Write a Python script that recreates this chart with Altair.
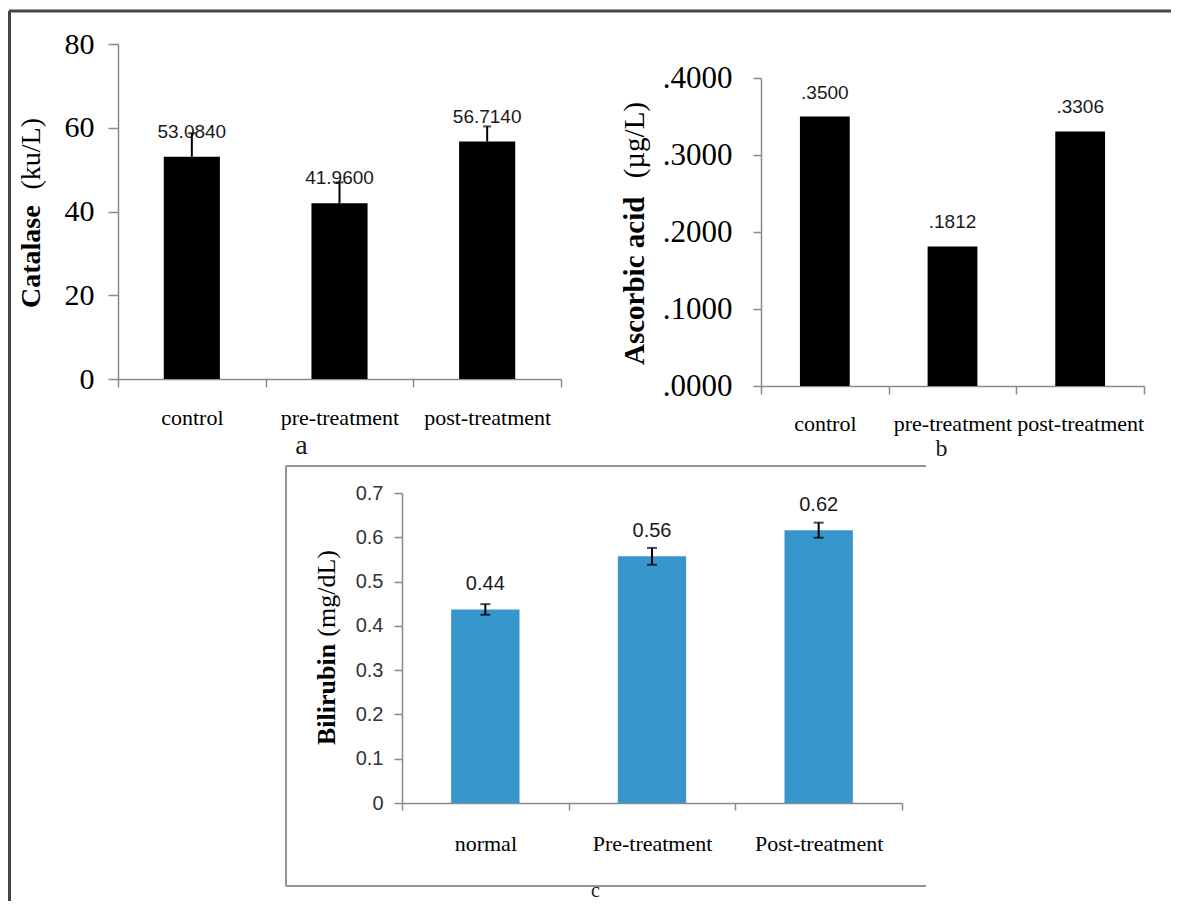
import altair as alt
import pandas as pd

# ---------------- data ----------------
catalase_groups = ["control", "pre-treatment", "post-treatment"]
catalase_values = [53.084, 41.96, 56.714]
catalase_err = [5.6, 5.0, 3.6]
catalase_ticks = [0, 20, 40, 60, 80]

ascorbic_groups = ["control", "pre-treatment", "post-treatment"]
ascorbic_values = [0.35, 0.1812, 0.3306]
ascorbic_ticks = [0.0, 0.1, 0.2, 0.3, 0.4]

bilirubin_groups = ["normal", "Pre-treatment", "Post-treatment"]
bilirubin_values = [0.437, 0.557, 0.616]
bilirubin_err = [0.012, 0.019, 0.017]
bilirubin_ticks = [0, 0.1, 0.2, 0.3, 0.4, 0.5, 0.6, 0.7]

df_a = pd.DataFrame({"group": catalase_groups, "value": catalase_values, "err": catalase_err})
df_a["hi"] = df_a["value"] + df_a["err"]
df_b = pd.DataFrame({"group": ascorbic_groups, "value": ascorbic_values})
df_c = pd.DataFrame({"group": bilirubin_groups, "value": bilirubin_values, "err": bilirubin_err})
df_c["lo"] = df_c["value"] - df_c["err"]
df_c["hi"] = df_c["value"] + df_c["err"]
one = pd.DataFrame({"k": [0]})

# ---------------- layout (plot-area pixels) ----------------
W, H = 1163, 893
SERIF = "Liberation Serif"
SANS = "Liberation Sans"
GREY = "#8a8a8a"

A_X = [110, 553]; A_Y = [371, 36]
B_X = [753, 1136]; B_Y = [378, 70]
C_X = [394, 894]; C_Y = [795, 485]


def xenc(groups, xr, axis):
    return alt.X("group:N",
                 scale=alt.Scale(domain=groups, range=xr, paddingInner=0, paddingOuter=0),
                 axis=axis)


def yenc(field, dom, yr, axis):
    return alt.Y(f"{field}:Q", scale=alt.Scale(domain=dom, range=yr, nice=False), axis=axis)


def xaxis(axis_y, lab_size, lab_pad, tick, caption, cap_x, cap_y, cap_size, cap_base="alphabetic"):
    return alt.Axis(orient="bottom", offset=axis_y - H, tickBand="extent", labelAngle=0,
                    grid=False, domainColor=GREY, domainWidth=1.5, tickColor=GREY,
                    tickWidth=1.5, tickSize=tick, labelFont=SERIF, labelFontSize=lab_size,
                    labelBaseline="alphabetic", labelPadding=lab_pad, labelColor="black",
                    title=caption, titleX=cap_x, titleY=cap_y, titleFont=SERIF,
                    titleFontSize=cap_size, titleFontWeight="normal",
                    titleBaseline=cap_base, titleAlign="center", titleColor="#1a1a1a")


# ---------------- panel a: Catalase ----------------
ya_axis = alt.Axis(orient="left", offset=-A_X[0], values=catalase_ticks, title=None, grid=False,
                   domainColor=GREY, domainWidth=1.5, tickColor=GREY, tickWidth=1.5, tickSize=10,
                   labelFont=SERIF, labelFontSize=30, labelColor="black", labelPadding=14,
                   format="d")
xa_axis = xaxis(A_Y[0], 22, 37, 8, "a", 293, 74, 28)
dom_a = [0, 80]
a_bars = alt.Chart(df_a).mark_bar(width={"band": 0.38}, color="black").encode(
    x=xenc(catalase_groups, A_X, xa_axis), y=yenc("value", dom_a, A_Y, ya_axis))
a_text = alt.Chart(df_a).transform_calculate(label="format(datum.value, '.4f')").mark_text(
    dy=-19, baseline="alphabetic", font=SANS, fontSize=19, color="#1a1a1a").encode(
    x=xenc(catalase_groups, A_X, None), y=yenc("value", dom_a, A_Y, None), text="label:N")
a_err = alt.Chart(df_a).mark_rule(color="black", strokeWidth=2).encode(
    x=xenc(catalase_groups, A_X, None), y=yenc("value", dom_a, A_Y, None), y2="hi:Q")
a_cap = alt.Chart(df_a).mark_tick(color="black", thickness=2, size=8).encode(
    x=xenc(catalase_groups, A_X, None), y=yenc("hi", dom_a, A_Y, None))

# ---------------- panel b: Ascorbic acid ----------------
yb_axis = alt.Axis(orient="left", offset=-B_X[0], values=ascorbic_ticks, title=None, grid=False,
                   domainColor=GREY, domainWidth=1.5, tickColor=GREY, tickWidth=1.5, tickSize=8,
                   labelFont=SERIF, labelFontSize=31, labelColor="black", labelPadding=21,
                   labelExpr="substring(format(datum.value, '.4f'), 1)")
xb_axis = xaxis(B_Y[0], 22, 36, 8, "b", 933, 69, 24)
dom_b = [0, 0.4]
b_bars = alt.Chart(df_b).mark_bar(width={"band": 0.39}, color="black").encode(
    x=xenc(ascorbic_groups, B_X, xb_axis), y=yenc("value", dom_b, B_Y, yb_axis))
b_text = alt.Chart(df_b).transform_calculate(
    label="substring(format(datum.value, '.4f'), 1)").mark_text(
    dy=-18, baseline="alphabetic", font=SANS, fontSize=19, color="#1a1a1a").encode(
    x=xenc(ascorbic_groups, B_X, None), y=yenc("value", dom_b, B_Y, None), text="label:N")

# ---------------- panel c: Bilirubin ----------------
yc_axis = alt.Axis(orient="left", offset=-C_X[0], values=bilirubin_ticks, title=None, grid=False,
                   domainColor=GREY, domainWidth=1.5, tickColor=GREY, tickWidth=1.5, tickSize=8,
                   labelFont=SANS, labelFontSize=20, labelColor="#333333", labelPadding=11,
                   labelExpr="datum.value == 0 ? '0' : format(datum.value, '.1f')")
xc_axis = xaxis(C_Y[0], 22, 40, 7, "c", 587, H - C_Y[0] - 1, 20, "bottom")
dom_c = [0, 0.7]
c_bars = alt.Chart(df_c).mark_bar(width={"band": 0.41}, color="#3797cc").encode(
    x=xenc(bilirubin_groups, C_X, xc_axis), y=yenc("value", dom_c, C_Y, yc_axis))
c_text = alt.Chart(df_c).transform_calculate(label="format(datum.value, '.2f')").mark_text(
    dy=-19, baseline="alphabetic", font=SANS, fontSize=20, color="#1a1a1a").encode(
    x=xenc(bilirubin_groups, C_X, None), y=yenc("value", dom_c, C_Y, None), text="label:N")
c_err = alt.Chart(df_c).mark_rule(color="black", strokeWidth=2).encode(
    x=xenc(bilirubin_groups, C_X, None), y=yenc("lo", dom_c, C_Y, None), y2="hi:Q")
c_cap_lo = alt.Chart(df_c).mark_tick(color="black", thickness=2, size=10).encode(
    x=xenc(bilirubin_groups, C_X, None), y=yenc("lo", dom_c, C_Y, None))
c_cap_hi = alt.Chart(df_c).mark_tick(color="black", thickness=2, size=10).encode(
    x=xenc(bilirubin_groups, C_X, None), y=yenc("hi", dom_c, C_Y, None))


# ---------------- decorations ----------------
def hrule(x1, x2, y, color, w):
    return alt.Chart(one).mark_rule(color=color, strokeWidth=w).encode(
        x=alt.value(x1), x2=alt.value(x2), y=alt.value(y))


def vrule(x, y1, y2, color, w):
    return alt.Chart(one).mark_rule(color=color, strokeWidth=w).encode(
        x=alt.value(x), y=alt.value(y1), y2=alt.value(y2))


def vtitle(text, x, y, align, size, weight):
    return alt.Chart(one).mark_text(angle=270, align=align, baseline="middle", font=SERIF,
                                    fontSize=size, fontWeight=weight, color="black").encode(
        x=alt.value(x), y=alt.value(y), text=alt.value(text))


FRAME = "#454545"
BOX = "#959595"
decor = [
    hrule(1, W, 3, FRAME, 3),
    vrule(1.5, 3, H, FRAME, 3),
    hrule(278, 918, 458, BOX, 2),
    hrule(278, 918, 878, BOX, 2),
    vrule(278, 458, 878, BOX, 2),
    vtitle("Catalase", 24, 300, "left", 28, "bold"),
    vtitle("(ku/L)", 24, 110, "right", 28, "normal"),
    vtitle("Ascorbic acid", 627, 357, "left", 29, "bold"),
    vtitle("(µg/L)", 627, 94, "right", 29, "normal"),
    vtitle("Bilirubin", 319, 737, "left", 26, "bold"),
    vtitle("(mg/dL)", 319, 542, "right", 26, "normal"),
]

marks = [a_bars, b_bars, c_bars, a_text, a_err, a_cap, b_text, c_text, c_err, c_cap_lo, c_cap_hi]

chart = alt.layer(*marks, *decor).resolve_scale(
    x="independent", y="independent"
).resolve_axis(
    x="independent", y="independent"
).properties(
    width=W, height=H, autosize=alt.AutoSizeParams(type="none"), padding=0
).configure_view(stroke=None)

chart.save("out.html", embed_options={"renderer": "svg", "actions": False})
